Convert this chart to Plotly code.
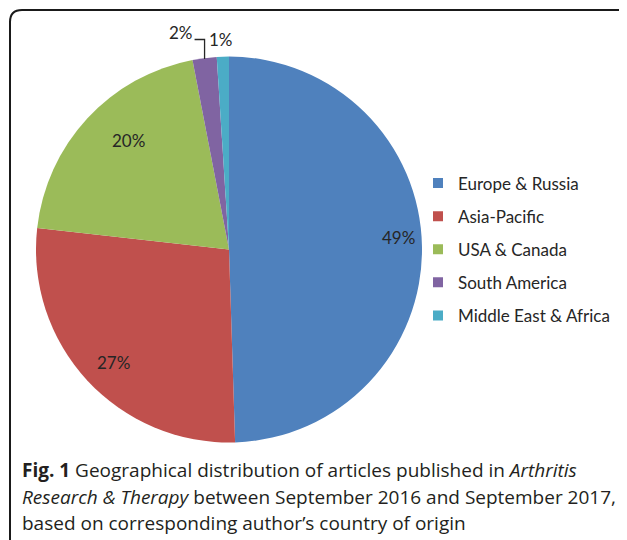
import math
import plotly.graph_objects as go

# ---- data ----
regions = ["Europe & Russia", "Asia-Pacific", "USA & Canada", "South America", "Middle East & Africa"]
percent = [49, 27, 20, 2, 1]
colors = ["#4F81BD", "#C0504D", "#9BBB59", "#8064A2", "#4BACC6"]
caption_lines = [
    "<b>Fig. 1</b> Geographical distribution of articles published in <i>Arthritis</i>",
    "<i>Research &amp; Therapy</i> between September 2016 and September 2017,",
    "based on corresponding author’s country of origin",
]

# ---- layout constants (page pixels; the page body has an 8px margin) ----
OFF = 8
W, H = 627 - OFF, 540 - OFF
CX, CY, R = 229, 249.5, 193
LABEL_R = [0.88, 0.835, 0.77]
LABEL_DA = [-3.0, -1.6, 4.7]  # degrees, fine placement of inside labels
LABEL_FONT = dict(family="Lato, Open Sans, sans-serif", size=17, color="#262626")


def px(x):
    return (x - OFF) / W


def py(y):
    return 1 - (y - OFF) / H


fig = go.Figure()
fig.add_trace(go.Pie(
    labels=regions, values=percent, sort=False, direction="clockwise", rotation=0,
    marker=dict(colors=colors, line=dict(width=0)),
    textinfo="none", showlegend=False,
    domain=dict(x=[px(CX - R), px(CX + R)], y=[py(CY + R), py(CY - R)]),
))

# legend entries
for i, (name, c) in enumerate(zip(regions, colors)):
    fig.add_trace(go.Scatter(
        x=[None], y=[None], mode="markers", name=name, legendgroup=str(i),
        marker=dict(symbol="square", size=10, color=c),
    ))

# slice labels computed from the data
total = sum(percent)
cum = 0
annotations = []
mids = []
for v in percent:
    mids.append((cum + v / 2) / total * 2 * math.pi)
    cum += v
for i in range(3):
    a = mids[i] + math.radians(LABEL_DA[i])
    x = CX + LABEL_R[i] * R * math.sin(a)
    y = CY - LABEL_R[i] * R * math.cos(a)
    annotations.append(dict(x=px(x), y=py(y), xref="paper", yref="paper", text=f"{percent[i]}%",
                            showarrow=False, font=LABEL_FONT, xanchor="center", yanchor="middle"))

# outside labels for the small slices, with a leader line for the 2% slice
a3 = mids[3]
ex, ey = CX + R * math.sin(a3), CY - R * math.cos(a3)
top_y = CY - R - 17
annotations.append(dict(x=px(ex - 10), y=py(top_y - 7), xref="paper", yref="paper", text=f"{percent[3]}%",
                        showarrow=False, font=LABEL_FONT, xanchor="right", yanchor="middle"))
a4 = mids[4]
cx4 = CX + R * math.sin(a4)
annotations.append(dict(x=px(cx4 - 2), y=py(CY - R - 17), xref="paper", yref="paper", text=f"{percent[4]}%",
                        showarrow=False, font=LABEL_FONT, xanchor="center", yanchor="middle"))

shapes = [
    dict(type="path", xref="paper", yref="paper",
         path=f"M {px(ex)},{py(ey + 1)} L {px(ex)},{py(top_y)} L {px(ex - 10)},{py(top_y)}",
         line=dict(color="#262626", width=1.3)),
]

# rounded frame
x0, y0, rr = 10, 10, 12
x1, y1 = 629, 580
frame = (f"M {px(x0)},{py(y1)} L {px(x0)},{py(y0 + rr)} Q {px(x0)},{py(y0)} {px(x0 + rr)},{py(y0)} "
         f"L {px(x1 - rr)},{py(y0)} Q {px(x1)},{py(y0)} {px(x1)},{py(y0 + rr)} L {px(x1)},{py(y1)}")
shapes.append(dict(type="path", xref="paper", yref="paper", path=frame,
                   line=dict(color="#1a1a1a", width=2)))

# caption
cap_font = dict(family="Open Sans, Noto Sans, sans-serif", size=19, color="#231f20")
for j, line in enumerate(caption_lines):
    annotations.append(dict(x=px(20), y=py(470 + 26.5 * j), xref="paper", yref="paper", text=line,
                            showarrow=False, font=cap_font, xanchor="left", yanchor="middle", align="left"))

fig.update_layout(
    width=W, height=H, margin=dict(l=0, r=0, t=0, b=0),
    paper_bgcolor="white", plot_bgcolor="white",
    xaxis=dict(visible=False), yaxis=dict(visible=False),
    legend=dict(x=px(418), y=py(165.5), xanchor="left", yanchor="top",
                font=dict(family="Lato, Open Sans, sans-serif", size=17, color="#262626"),
                tracegroupgap=8, bgcolor="rgba(0,0,0,0)"),
    annotations=annotations, shapes=shapes,
)

fig.write_html("out.html")
